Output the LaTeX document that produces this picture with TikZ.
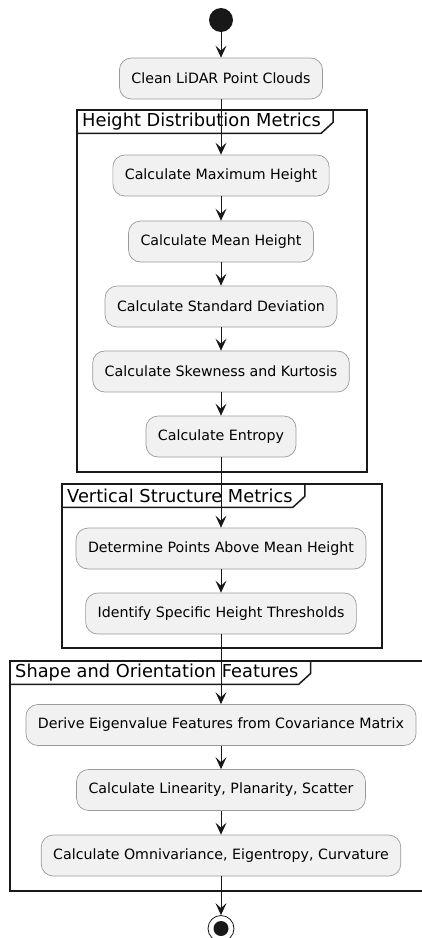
\documentclass[tikz,border=0pt]{standalone}
\usepackage{fontspec}
\setmainfont{DejaVu Sans}
\usetikzlibrary{arrows.meta,calc}
\definecolor{actfill}{HTML}{F1F1F1}
\definecolor{actline}{HTML}{9A9A9A}
\definecolor{flowline}{HTML}{181818}

\begin{document}
\begin{tikzpicture}[x=1pt,y=1pt,
		act/.style={draw=actline, fill=actfill, line width=0.7pt, rounded corners=12pt, minimum height=41pt, inner xsep=12pt, font=\fontsize{14.2}{16}\selectfont},
		grp/.style={draw=black!90, line width=1.5pt},
		grptitle/.style={anchor=north west, minimum height=23pt, inner xsep=5pt, inner ysep=0pt, font=\fontsize{17.8}{19}\selectfont},
		flow/.style={draw=flowline, line width=1pt, -{Stealth[length=12pt,width=11pt,inset=5pt]}}]
		\useasboundingbox (0,0) rectangle (422,-938);
		\clip (0,0) rectangle (422,-938);
%
		\draw[grp] (77,-110) rectangle (367,-472);
		\node[grptitle] (G1) at (77,-110) {Height Distribution Metrics};
		\draw[grp] (G1.south west) -- ($(G1.south east)+(-5,0)$) -- ($(G1.south east)+(7,11)$) -- ($(G1.north east)+(7,0)$);
		\draw[grp] (62,-484) rectangle (382,-648);
		\node[grptitle] (G2) at (62,-484) {Vertical Structure Metrics};
		\draw[grp] (G2.south west) -- ($(G2.south east)+(-5,0)$) -- ($(G2.south east)+(7,11)$) -- ($(G2.north east)+(7,0)$);
		\draw[grp] (10,-661) rectangle (432,-891);
		\node[grptitle] (G3) at (10,-661) {Shape and Orientation Features};
		\draw[grp] (G3.south west) -- ($(G3.south east)+(-5,0)$) -- ($(G3.south east)+(7,11)$) -- ($(G3.north east)+(7,0)$);
%
		\node[circle, fill=flowline, minimum size=24pt, inner sep=0pt] (Start) at (221,-20) {};
		\node[act] (Clean) at (221,-78.5) {Clean LiDAR Point Clouds};
		\node[act] (MaxH) at (221,-175.5) {Calculate Maximum Height};
		\node[act] (MeanH) at (221,-241.5) {Calculate Mean Height};
		\node[act] (StdDev) at (221,-306.5) {Calculate Standard Deviation};
		\node[act] (SkewK) at (221,-371.5) {Calculate Skewness and Kurtosis};
		\node[act] (Entr) at (221,-436.5) {Calculate Entropy};
		\node[act] (AboveM) at (221,-548.5) {Determine Points Above Mean Height};
		\node[act] (Thresh) at (221,-613.5) {Identify Specific Height Thresholds};
		\node[act] (Eigen) at (221,-725) {Derive Eigenvalue Features from Covariance Matrix};
		\node[act] (LinPl) at (221,-790) {Calculate Linearity, Planarity, Scatter};
		\node[act] (Omni) at (221,-855.5) {Calculate Omnivariance, Eigentropy, Curvature};
		\node[circle, draw=flowline, line width=0.8pt, minimum size=26pt, inner sep=0pt] (Stop) at (221,-928.5) {};
		\node[circle, fill=flowline, minimum size=15pt, inner sep=0pt] (StopDot) at (Stop.center) {};
%
		\path[every edge/.style=flow]
			(Start) edge (Clean)
			(Clean) edge (MaxH)
			(MaxH) edge (MeanH)
			(MeanH) edge (StdDev)
			(StdDev) edge (SkewK)
			(SkewK) edge (Entr)
			(Entr) edge (AboveM)
			(AboveM) edge (Thresh)
			(Thresh) edge (Eigen)
			(Eigen) edge (LinPl)
			(LinPl) edge (Omni)
			(Omni) edge (Stop);
	\end{tikzpicture}
\end{document}
